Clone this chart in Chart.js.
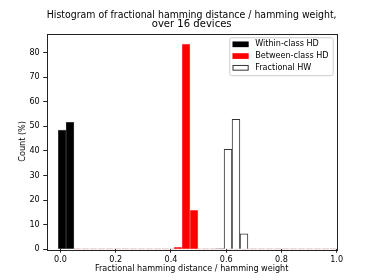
<!DOCTYPE html>
<html>
<head>
<meta charset="utf-8">
<script src="https://cdn.jsdelivr.net/npm/chart.js@4/dist/chart.umd.min.js"></script>
<style>
  body { margin: 0; background: #fff; }
</style>
</head>
<body>
<canvas id="mycanvas" width="374" height="280"></canvas>
<script>
// histogram bins (bin centres) and heights in percent
var withinBins = [0.0058, 0.0342];
var withinCount = [48.4, 51.6];
var betweenBins = [0.4255, 0.4545, 0.4834];
var betweenCount = [0.8, 83.4, 15.8];
var hwBins = [0.5776, 0.6066, 0.6355, 0.6645];
var hwCount = [0.3, 40.6, 52.8, 6.3];
// the empty bins, drawn as a flat outline at zero
var emptyFrom = 0.0487;
var emptyTo = 1.0;

var seriesNames = ['Within-class HD', 'Between-class HD', 'Fractional HW'];
var titleLines = ['Histogram of fractional hamming distance / hamming weight,', 'over 16 devices'];
var xTitle = 'Fractional hamming distance / hamming weight';
var yTitle = 'Count (%)';
var xTicks = [0.0, 0.2, 0.4, 0.6, 0.8, 1.0];
var yTicks = [0, 10, 20, 30, 40, 50, 60, 70, 80];
var xMin = -0.05, xMax = 1.0, yMax = 87.7;

var FONT = 'DejaVu Sans';

function points(xs, ys) {
  var out = [];
  for (var i in xs) out.push({x: xs[i], y: ys[i]});
  return out;
}

// frame around the plot area
var frame = {
  id: 'frame',
  beforeDatasetsDraw: function(chart) {
    var a = chart.chartArea, ctx = chart.ctx;
    ctx.save();
    ctx.strokeStyle = '#222';
    ctx.lineWidth = 1;
    ctx.strokeRect(Math.round(a.left) + 0.5, Math.round(a.top) + 0.5,
      Math.round(a.right - a.left), Math.round(a.bottom - a.top));
    ctx.restore();
  }
};

// centre the title over the plot area
var titleOverPlot = {
  id: 'titleOverPlot',
  afterLayout: function(chart) {
    chart.titleBlock.left = chart.chartArea.left;
    chart.titleBlock.right = chart.chartArea.right;
  }
};

// legend box inside the upper right corner
var legendBox = {
  id: 'legendBox',
  afterDraw: function(chart) {
    var ctx = chart.ctx, a = chart.chartArea;
    var items = chart.data.datasets.filter(function(d) { return d.label; });
    ctx.save();
    ctx.font = '8.1px "' + FONT + '"';
    var textW = 0;
    items.forEach(function(d) { textW = Math.max(textW, ctx.measureText(d.label).width); });
    var pad = 3.2, patchW = 16.2, patchH = 5.7, gap = 6.5, rowH = 11.75;
    var w = pad + patchW + gap + textW + pad + 1;
    var h = 2 * pad + items.length * rowH - 4.05 + 0.3;
    var x = a.right - 3.9 - w, y = a.top + 3.7;
    ctx.beginPath();
    ctx.roundRect(x + 0.5, y + 0.5, w, h, 2);
    ctx.fillStyle = 'rgba(255,255,255,0.8)';
    ctx.fill();
    ctx.strokeStyle = '#cccccc';
    ctx.lineWidth = 1;
    ctx.stroke();
    items.forEach(function(d, i) {
      var cy = y + pad + 3.85 + i * rowH;
      ctx.fillStyle = d.backgroundColor;
      ctx.fillRect(x + pad, cy - patchH / 2, patchW, patchH);
      if (d.backgroundColor === '#ffffff') {
        ctx.strokeStyle = '#333';
        ctx.strokeRect(x + pad + 0.5, cy - patchH / 2 + 0.5, patchW - 1, patchH - 1);
      }
      ctx.fillStyle = '#000';
      ctx.textBaseline = 'middle';
      ctx.textAlign = 'left';
      ctx.fillText(d.label, x + pad + patchW + gap, cy);
    });
    ctx.restore();
  }
};

var chartdata = {
  datasets: [
    {
      label: seriesNames[0],
      data: points(withinBins, withinCount),
      backgroundColor: '#000000',
      borderColor: '#666666',
      borderWidth: 0.6
    },
    {
      label: seriesNames[1],
      data: points(betweenBins, betweenCount),
      backgroundColor: '#ff0000',
      borderColor: '#ff8c8c',
      borderWidth: 0.6
    },
    {
      label: seriesNames[2],
      data: points(hwBins, hwCount),
      backgroundColor: '#ffffff',
      borderColor: '#333333',
      borderWidth: 1
    },
    {
      type: 'line',
      order: 1,
      data: [{x: emptyFrom, y: 0}, {x: emptyTo, y: 0}],
      borderColor: 'rgba(185,110,110,0.85)',
      borderWidth: 1,
      borderDash: [7, 1],
      pointRadius: 0
    }
  ]
};

var ctx = document.getElementById('mycanvas');

new Chart(ctx, {
  type: 'bar',
  data: chartdata,
  plugins: [frame, titleOverPlot, legendBox],
  options: {
    responsive: false,
    animation: false,
    layout: {padding: {left: 0, right: 37.4, top: 0, bottom: 0}},
    datasets: {
      bar: {barPercentage: 1, categoryPercentage: 1, grouped: false}
    },
    plugins: {
      legend: {display: false},
      tooltip: {enabled: false},
      title: {
        display: true,
        text: titleLines,
        color: '#000',
        font: {family: FONT, size: 10.05, weight: 'normal', lineHeight: 0.915},
        padding: {top: 10.4, bottom: 4.77}
      }
    },
    scales: {
      x: {
        type: 'linear',
        min: xMin,
        max: xMax,
        offset: false,
        grid: {drawOnChartArea: false, drawTicks: true, tickLength: 3.5, color: '#222', offset: false},
        border: {display: false},
        afterBuildTicks: function(s) { s.ticks = xTicks.map(function(v) { return {value: v}; }); },
        afterFit: function(s) { s.height = 30.8; },
        ticks: {
          color: '#000', padding: 2.7, maxRotation: 0, autoSkip: false,
          font: {family: FONT, size: 8.1},
          callback: function(v) { return Number(v).toFixed(1); }
        },
        title: {
          display: true, text: xTitle, color: '#000',
          font: {family: FONT, size: 8.1}, padding: {top: 0, bottom: 6.4}
        }
      },
      y: {
        type: 'linear',
        min: 0,
        max: yMax,
        grid: {drawOnChartArea: false, drawTicks: true, tickLength: 3.5, color: '#222'},
        border: {display: false},
        afterBuildTicks: function(s) { s.ticks = yTicks.map(function(v) { return {value: v}; }); },
        afterFit: function(s) { s.width = 46.75; },
        ticks: {
          color: '#000', padding: 3.5,
          font: {family: FONT, size: 8.1},
          callback: function(v) { return String(v); }
        },
        title: {
          display: true, text: yTitle, color: '#000',
          font: {family: FONT, size: 8.1}, padding: {top: 18.5, bottom: 0}
        }
      }
    }
  }
});
</script>
</body>
</html>
